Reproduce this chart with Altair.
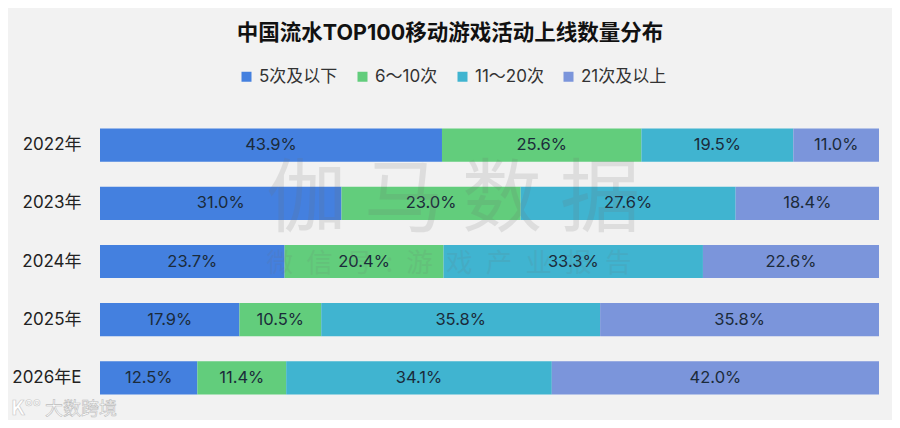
import altair as alt
import pandas as pd

FONT = "Inter, 'Noto Sans CJK SC'"
CJK = "Noto Sans CJK SC"
years = ["2022年", "2023年", "2024年", "2025年", "2026年E"]
series = ["5次及以下", "6～10次", "11～20次", "21次及以上"]
colors = ["#4480df", "#62cd7c", "#40b4d0", "#7b95db"]
v_low = [43.9, 31.0, 23.7, 17.9, 12.5]
v_mid = [25.6, 23.0, 20.4, 10.5, 11.4]
v_high = [19.5, 27.6, 33.3, 35.8, 34.1]
v_top = [11.0, 18.4, 22.6, 35.8, 42.0]

rows = []
for i, y in enumerate(years):
    start = 0
    for k, vals in enumerate([v_low, v_mid, v_high, v_top]):
        v = vals[i]
        rows.append({"year": y, "series": series[k], "k": k, "value": v,
                     "mid": start + v / 2, "label": f"{v:.1f}%"})
        start += v
df = pd.DataFrame(rows)

x_scale = alt.Scale(domain=[0, 100], nice=False)
y_enc = alt.Y("year:N", sort=years, title=None,
              scale=alt.Scale(paddingInner=0.43, paddingOuter=0.215),
              axis=alt.Axis(domain=False, ticks=False, labelFont=FONT, labelFontSize=17,
                            labelColor="#222222", labelPadding=19, grid=False))

bars = alt.Chart(df).mark_bar(opacity=1).encode(
    x=alt.X("value:Q", stack="zero", scale=x_scale, axis=None),
    y=y_enc,
    order=alt.Order("k:Q"),
    color=alt.Color("series:N", sort=series,
                    scale=alt.Scale(domain=series, range=colors),
                    legend=alt.Legend(title=None, orient="none", direction="horizontal",
                                      columns=4, legendX=138, legendY=-48,
                                      symbolType="square", symbolSize=100, symbolStrokeWidth=0,
                                      symbolOpacity=1, labelFont=FONT, labelFontSize=17,
                                      labelColor="#333333", labelOffset=4, columnPadding=16)),
)
labels = alt.Chart(df).mark_text(font=FONT, fontSize=16.5, color="#1b2b3a").encode(
    x=alt.X("mid:Q", scale=x_scale, axis=None),
    y=alt.Y("year:N", sort=years),
    text="label:N",
)


def note(text, x, y, size, color, **kw):
    return alt.Chart(pd.DataFrame({"t": [text]})).mark_text(
        font=CJK, fontSize=size, color=color, **kw
    ).encode(text="t:N", x=alt.value(x), y=alt.value(y))


wm1 = note("伽 马 数 据", 353, 85, 80, "#6e6e6e", opacity=0.15)
wm2 = note("微\u2002信\u2002号\u2002:\u2002游\u2002戏\u2002产\u2002业\u2002报\u2002告",
           349, 148, 26.5, "#6e6e6e", opacity=0.12)
logo1 = note("K°°", -74, 293, 20, "#ffffff", stroke="#c8c8c8", strokeWidth=0.6, fontWeight="bold")
logo2 = note("大数跨境", -19, 294, 18, "#ffffff", stroke="#bcbcbc", strokeWidth=0.6)

chart = alt.layer(bars, labels, wm1, wm2, logo1, logo2).resolve_scale(y="shared").properties(
    width=779, height=291,
    title=alt.TitleParams("中国流水TOP100移动游戏活动上线数量分布", anchor="middle", dx=-39.5,
                          font=FONT, fontSize=21.5, fontWeight="bold", color="#111111", offset=24),
    padding={"left": 92, "top": 108, "right": 13, "bottom": 13},
    autosize=alt.AutoSizeParams(type="none"),
    background="#f2f2f2",
).configure_view(stroke=None)

chart.save("out.html", embed_options={"renderer": "svg", "actions": False})
